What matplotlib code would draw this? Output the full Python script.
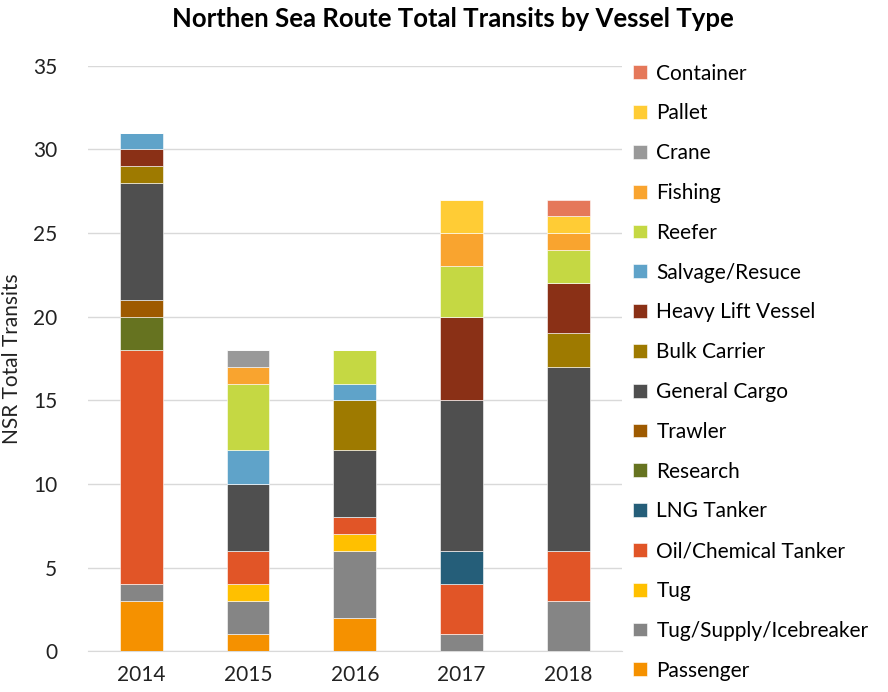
import numpy as np

import matplotlib
matplotlib.use('Agg')
import matplotlib.pyplot as plt

plt.rcParams['font.family'] = ['Lato', 'DejaVu Sans']

years = ['2014', '2015', '2016', '2017', '2018']

# stacked bottom -> top
vessel_types = ['Passenger', 'Tug/Supply/Icebreaker', 'Tug', 'Oil/Chemical Tanker',
                'LNG Tanker', 'Research', 'Trawler', 'General Cargo', 'Bulk Carrier',
                'Heavy Lift Vessel', 'Salvage/Resuce', 'Reefer', 'Fishing', 'Crane',
                'Pallet', 'Container']

passenger = [3, 1, 2, 0, 0]
tug_supply = [1, 2, 4, 1, 3]
tug = [0, 1, 1, 0, 0]
oil_chem = [14, 2, 1, 3, 3]
lng = [0, 0, 0, 2, 0]
research = [2, 0, 0, 0, 0]
trawler = [1, 0, 0, 0, 0]
general_cargo = [7, 4, 4, 9, 11]
bulk = [1, 0, 3, 0, 2]
heavy_lift = [1, 0, 0, 5, 3]
salvage = [1, 2, 1, 0, 0]
reefer = [0, 4, 2, 3, 2]
fishing = [0, 1, 0, 2, 1]
crane = [0, 1, 0, 0, 0]
pallet = [0, 0, 0, 2, 1]
container = [0, 0, 0, 0, 1]

series = [passenger, tug_supply, tug, oil_chem, lng, research, trawler, general_cargo,
          bulk, heavy_lift, salvage, reefer, fishing, crane, pallet, container]

colors = ['#F59100', '#858585', '#FFC000', '#E15527', '#255E79', '#667320', '#9E5A00',
          '#4F4F4F', '#9E7A00', '#8A3016', '#5FA3C9', '#C5D843', '#F9A42F', '#999999',
          '#FFCC35', '#E5785A']

fig = plt.figure(figsize=(8.88, 6.92), dpi=100)
ax = fig.add_axes([0.099, 0.059, 0.601, 0.846])

x = np.arange(len(years))
bottom = np.zeros(len(years))
handles = []
for name, vals, c in zip(vessel_types, series, colors):
    b = ax.bar(x, vals, 0.4, bottom=bottom, color=c, label=name,
               edgecolor='white', linewidth=0.4, zorder=3)
    handles.append(b)
    bottom += np.array(vals)

ax.set_xlim(-0.5, len(years) - 0.5)
ax.set_ylim(0, 35)
ax.set_yticks(range(0, 36, 5))
ax.set_xticks(x)
ax.set_xticklabels(years)
ax.tick_params(length=0, labelsize=15, colors='#222222', pad=10)
ax.tick_params(axis='y', pad=22)
ax.grid(axis='y', color='#D9D9D9', linewidth=1, zorder=0)
for s in ['top', 'right', 'left']:
    ax.spines[s].set_visible(False)
ax.spines['bottom'].set_color('#D9D9D9')
ax.set_ylabel('NSR Total Transits', fontsize=15, color='#222222', labelpad=8)

fig.suptitle('Northen Sea Route Total Transits by Vessel Type', fontsize=18.5,
             fontweight='bold', x=0.51, y=0.99)

fig.legend(handles[::-1], vessel_types[::-1], loc='upper left',
           bbox_to_anchor=(0.704, 0.92), frameon=False, fontsize=15,
           handlelength=0.65, handleheight=0.65, handletextpad=0.45,
           labelspacing=0.95, borderaxespad=0)

fig.savefig('out.png', dpi=100)
